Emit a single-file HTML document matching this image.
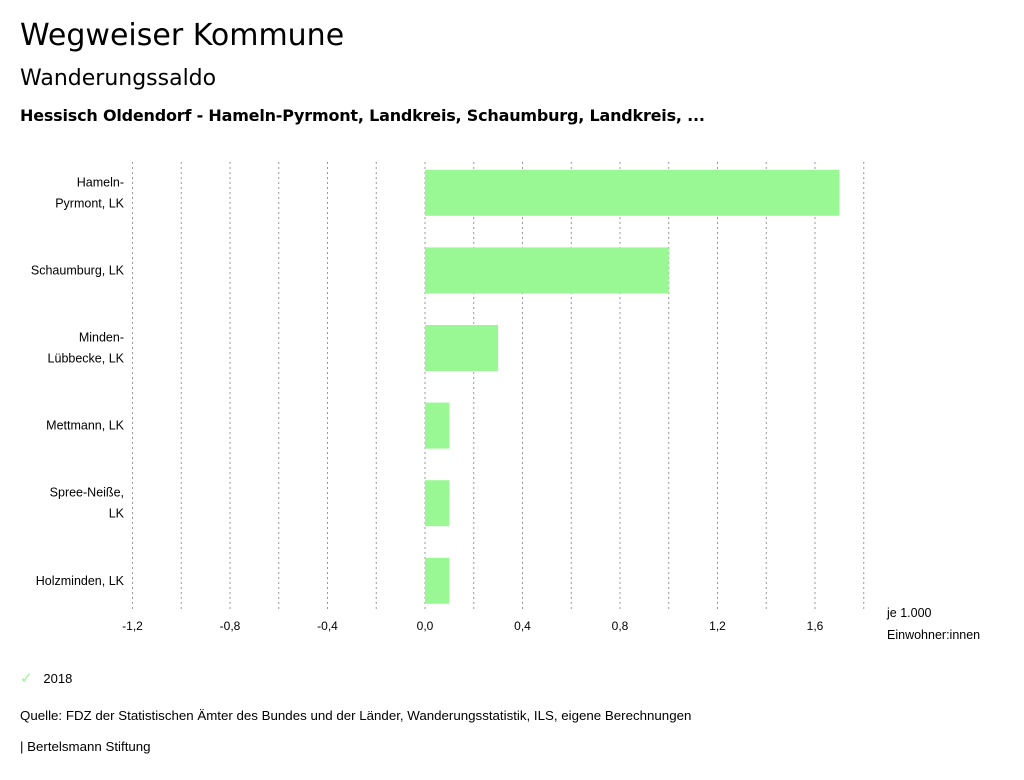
<!DOCTYPE html>
<html><head><meta charset="utf-8">
<style>
body{margin:0;width:1024px;height:780px;background:#fff;font-family:"Liberation Sans",sans-serif;color:#000;position:relative;overflow:hidden}
.t{position:absolute;white-space:nowrap}
</style></head><body>
<div class="t" style="left:20px;top:18px;font-family:'DejaVu Sans',sans-serif;font-size:30px">Wegweiser Kommune</div>
<div class="t" style="left:20px;top:66px;font-family:'DejaVu Sans',sans-serif;font-size:22px">Wanderungssaldo</div>
<div class="t" style="left:20px;top:106px;font-family:'DejaVu Sans',sans-serif;font-size:16px;font-weight:bold;letter-spacing:-0.2px">Hessisch Oldendorf - Hameln-Pyrmont, Landkreis, Schaumburg, Landkreis, ...</div>
<svg id="chart" width="1024" height="780" style="position:absolute;left:0;top:0" font-family="Liberation Sans, sans-serif"></svg>
<div class="t" style="left:20px;top:669px;font-size:13px"><span style="color:#99f893;font-size:15px">✓</span>&nbsp;&nbsp;&nbsp;2018</div>
<div class="t" style="left:20px;top:708px;font-size:13.3px">Quelle: FDZ der Statistischen Ämter des Bundes und der Länder, Wanderungsstatistik, ILS, eigene Berechnungen</div>
<div class="t" style="left:20px;top:739px;font-size:13.3px">| Bertelsmann Stiftung</div>
<script>
const categories=[["Hameln-","Pyrmont, LK"],["Schaumburg, LK"],["Minden-","Lübbecke, LK"],["Mettmann, LK"],["Spree-Neiße,","LK"],["Holzminden, LK"]];
const values2018=[1.7,1.0,0.3,0.1,0.1,0.1];
const tickValues=[-1.2,-0.8,-0.4,0,0.4,0.8,1.2,1.6];
const tickLabels=["-1,2","-0,8","-0,4","0,0","0,4","0,8","1,2","1,6"];
const gridValues=[-1.2,-1.0,-0.8,-0.6,-0.4,-0.2,0,0.2,0.4,0.6,0.8,1.0,1.2,1.4,1.6,1.8];
const NS="http://www.w3.org/2000/svg",svg=document.getElementById('chart');
const xs=v=>425+v*243.75;
const plotTop=154,band=77.6;
const yc=i=>plotTop+band*(i+0.5);
function mk(t,a){const e=document.createElementNS(NS,t);for(const k in a)e.setAttribute(k,a[k]);svg.appendChild(e);return e;}
gridValues.forEach(v=>{
const l=mk('line',{x1:xs(v),x2:xs(v),y1:162,y2:612,stroke:'#999','stroke-width':1,'stroke-dasharray':'2,3'});


});
tickValues.forEach((v,i)=>{
const t=mk('text',{x:xs(v),y:630,'text-anchor':'middle','font-size':12});t.textContent=tickLabels[i];


});
values2018.forEach((v,i)=>{
const r=mk('rect',{x:Math.min(xs(0),xs(v)),y:yc(i)-23,width:Math.abs(xs(v)-xs(0)),height:46,fill:'#99f893'});


const lines=categories[i];
lines.forEach((s,j)=>{
const t=mk('text',{x:124,y:yc(i)+4+(j-(lines.length-1)/2)*21,'text-anchor':'end','font-size':12.5});t.textContent=s;


});
});
const u1=mk('text',{x:887,y:617,'font-size':12.5});u1.textContent='je 1.000';


const u2=mk('text',{x:887,y:639,'font-size':12.5});u2.textContent='Einwohner:innen';


</script>
</body></html>
